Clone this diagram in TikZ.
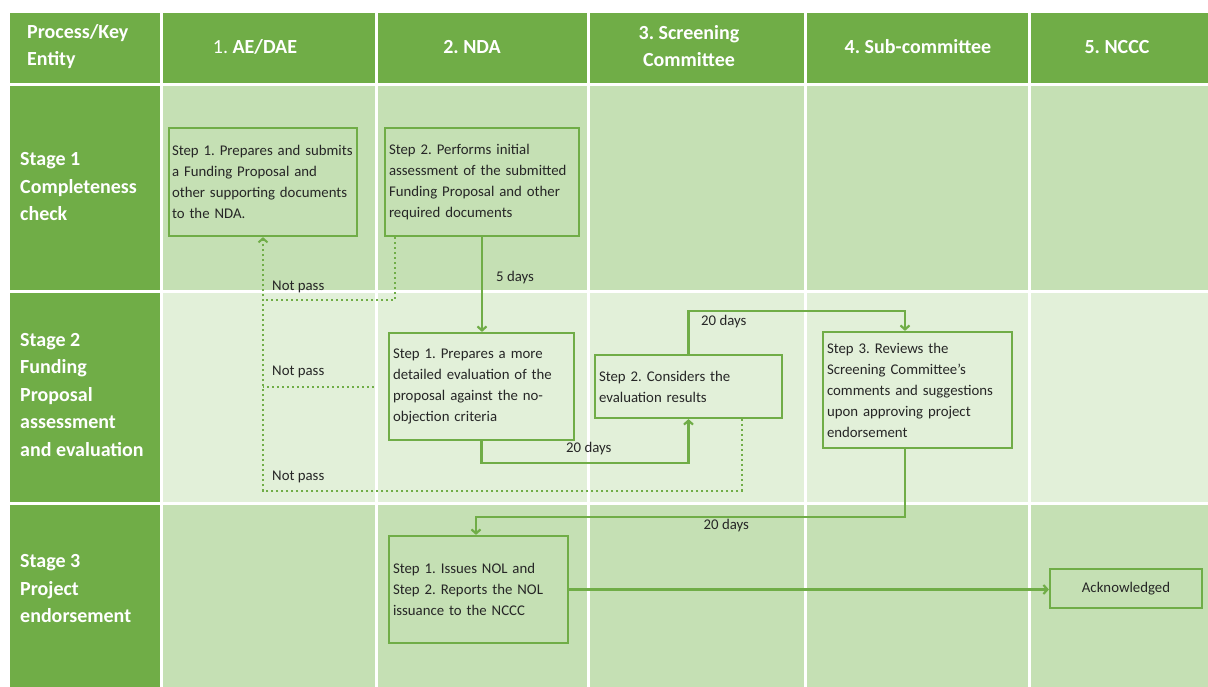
\documentclass[tikz,border=0pt]{standalone}
\usepackage{fontspec}
\setmainfont{Carlito}
\usetikzlibrary{arrows.meta}
\frenchspacing
\hyphenpenalty=10000

\definecolor{hdgreen}{HTML}{70AD47}
\definecolor{cellgreen}{HTML}{C5E0B4}
\definecolor{palegreen}{HTML}{E2F0D9}
\definecolor{txtgrey}{HTML}{262626}

\begin{document}
\begin{tikzpicture}[x=1pt, y=-1pt, >={Straight Barb[length=4pt,width=9pt]}, line cap=round,
  stepbox/.style={draw=hdgreen, line width=2.2pt, align=left, inner xsep=4pt, inner ysep=0pt,
    text=txtgrey, font=\fontsize{14.8}{21}\selectfont},
  flow/.style={draw=hdgreen, line width=2.2pt, ->},
  notpass/.style={draw=hdgreen, line width=2pt, line cap=butt, dash pattern=on 2pt off 3pt},
  headtxt/.style={text=white, inner sep=0pt, align=center, font=\bfseries\fontsize{20}{27}\selectfont},
  stagetxt/.style={text=white, inner sep=0pt, align=left, anchor=west, font=\bfseries\fontsize{20}{27.5}\selectfont},
  lbl/.style={text=txtgrey, inner sep=0pt, anchor=west, font=\fontsize{14.8}{18}\selectfont}]

% --- canvas ---
\fill[white] (0,0) rectangle (1208,687);
\useasboundingbox (0,0) rectangle (1208,687);

% --- a small macro for each table row: dark stage cell + five entity cells ---
\newcommand{\tablerow}[3]{%
  % top, bottom, cell colour
  \fill[hdgreen] (10,#1) rectangle (160,#2);
  \fill[#3] (163,#1) rectangle (375,#2);
  \fill[#3] (378,#1) rectangle (587,#2);
  \fill[#3] (590,#1) rectangle (804,#2);
  \fill[#3] (807,#1) rectangle (1028,#2);
  \fill[#3] (1031,#1) rectangle (1208,#2);
}

% --- rows (top to bottom) ---
\tablerow{13}{83}{hdgreen}
\tablerow{86}{290}{cellgreen}
\tablerow{293}{502}{palegreen}
\tablerow{505}{687}{cellgreen}

% --- column headers ---
\node[headtxt, anchor=west, align=left] (hproc) at (27,46.5) {Process/Key\\Entity};
\node[headtxt] (hae) at (255,47) {{\mdseries 1.} AE/DAE};
\node[headtxt] (hnda) at (472,47) {2. NDA};
\node[headtxt] (hsc) at (689,46.5) {3. Screening\\Committee};
\node[headtxt] (hsub) at (918,47) {4. Sub-committee};
\node[headtxt] (hnccc) at (1117,47) {5. NCCC};

% --- stage labels ---
\node[stagetxt] (stage1) at (20,187) {Stage 1\\Completeness\\check};
\node[stagetxt] (stage2) at (20,395) {Stage 2\\Funding\\Proposal\\assessment\\and evaluation};
\node[stagetxt] (stage3) at (20,589) {Stage 3\\Project\\endorsement};

% --- step boxes ---
\node[stepbox, inner xsep=3pt, text width=182pt, minimum height=108pt] (aestep) at (263,182)
  {Step 1. Prepares and submits\\a Funding Proposal and\\other supporting documents\\to the NDA.};
\node[stepbox, text width=186pt, minimum height=108pt] (ndacheck) at (482,182)
  {Step 2. Performs initial\\assessment of the submitted\\Funding Proposal and other\\required documents};
\node[stepbox, text width=177pt, minimum height=107pt] (ndaeval) at (481.5,386.5)
  {Step 1. Prepares a more\\detailed evaluation of the\\proposal against the no-\\objection criteria};
\node[stepbox, text width=179pt, minimum height=63pt] (scconsider) at (688.5,386.5)
  {Step 2. Considers the\\evaluation results};
\node[stepbox, text width=181pt, minimum height=116pt] (subreview) at (917.5,390)
  {Step 3. Reviews the\\Screening Committee’s\\comments and suggestions\\upon approving project\\endorsement};
\node[stepbox, text width=171pt, minimum height=107pt] (ndanol) at (478.5,589.5)
  {Step 1. Issues NOL and\\Step 2. Reports the NOL\\issuance to the NCCC};
\node[stepbox, align=center, minimum width=152pt, minimum height=39pt] (ncccack) at (1126,588.5)
  {Acknowledged};

% --- flow between steps ---
\draw[flow] (ndacheck.south) -- (ndacheck.south |- ndaeval.north);
\draw[flow] (ndaeval.south) -- ++(0,22) -| (scconsider.south);
\draw[flow] (scconsider.north) -- ++(0,-43) -| ([xshift=-12.5]subreview.north);
\draw[flow] ([xshift=-12.5]subreview.south) -- ++(0,68) -| ([xshift=-2.5]ndanol.north);
\draw[flow] (ndanol.east) -- (ndanol.east -| ncccack.west);

\node[lbl] (days1) at (496,278) {5 days};
\node[lbl] (days2) at (566,449) {20 days};
\node[lbl] (days3) at (701,322) {20 days};
\node[lbl] (days4) at (703.5,526) {20 days};

% --- returns when a check is not passed ---
\coordinate (back1) at (263,300);
\coordinate (back3) at (263,491);
\draw[notpass] ([xshift=-87]ndacheck.south) |- (back1);
\draw[notpass] ([xshift=-14]ndaeval.west) -- (ndaeval.west -| aestep.south);
\draw[notpass, ->] ([xshift=53]scconsider.south) |- (back3) -- (aestep.south);

\node[lbl] (np1) at (272,287) {Not pass};
\node[lbl] (np2) at (272,372) {Not pass};
\node[lbl] (np3) at (272,477) {Not pass};

\end{tikzpicture}
\end{document}
